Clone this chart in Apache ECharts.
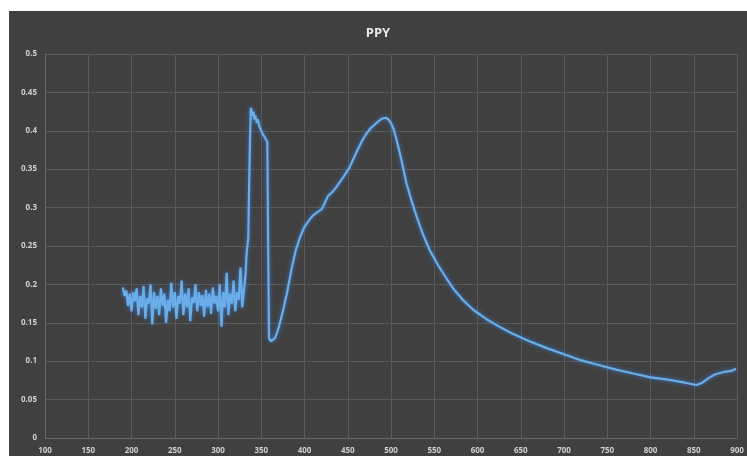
<!DOCTYPE html>
<html><head><meta charset="utf-8">
<script src="https://cdn.jsdelivr.net/npm/echarts@6/dist/echarts.min.js"></script>
<style>
html,body{margin:0;padding:0;background:#fff;width:747px;height:456px;overflow:hidden}
#c{position:absolute;left:9px;top:11px;width:738px;height:445px;background:#404040}
</style></head><body><div id="c"></div>
<script>
const title = 'PPY';
const wavelength = [190,192,194,196,198,200,202,204,206,208,210,212,214,216,218,220,222,224,226,228,230,232,234,236,238,240,242,244,246,248,250,252,254,256,258,260,262,264,266,268,270,272,274,276,278,280,282,284,286,288,290,292,294,296,298,300,302,304,306,308,310,312,314,316,318,320,322,324,326,328,330,
331,332,333,335,336,337,338,339,340,341,342,343,344,345,346,348,350,352,354,356,357,358,359,361,363,366,370,375,380,385,390,395,400,405,410,415,420,423,427,432,437,445,452,460,467,472,477,482,486,490,494,497,500,503,506,510,514,518,524,530,537,545,555,564,573,583,595,610,625,640,660,680,700,720,740,760,780,800,820,840,853,860,867,875,885,892,899];
const absorbance = [0.196,0.185,0.192,0.172,0.188,0.165,0.19,0.178,0.195,0.16,0.185,0.17,0.198,0.155,0.182,0.175,0.2,0.148,0.19,0.168,0.185,0.16,0.195,0.172,0.188,0.15,0.18,0.165,0.202,0.17,0.19,0.155,0.185,0.175,0.205,0.16,0.188,0.17,0.195,0.152,0.183,0.176,0.2,0.165,0.19,0.172,0.186,0.158,0.193,0.17,0.188,0.162,0.196,0.175,0.185,0.165,0.2,0.145,0.19,0.17,0.215,0.16,0.188,0.175,0.205,0.165,0.19,0.18,0.222,0.17,0.192,
0.19,0.215,0.24,0.26,0.33,0.39,0.43,0.432,0.42,0.425,0.415,0.42,0.418,0.41,0.415,0.405,0.4,0.395,0.392,0.39,0.385,0.25,0.13,0.126,0.125,0.13,0.143,0.165,0.19,0.22,0.245,0.262,0.275,0.283,0.29,0.294,0.298,0.305,0.315,0.32,0.327,0.34,0.352,0.372,0.388,0.397,0.404,0.409,0.413,0.416,0.417,0.415,0.41,0.402,0.39,0.372,0.352,0.331,0.308,0.287,0.265,0.244,0.224,0.208,0.193,0.18,0.167,0.155,0.145,0.136,0.126,0.117,0.109,0.101,0.095,0.089,0.084,0.079,0.076,0.072,0.069,0.072,0.078,0.083,0.086,0.087,0.09];
const xMin = 100, xMax = 900, xStep = 50;
const yMin = 0, yMax = 0.5, yStep = 0.05;

const chart = echarts.init(document.getElementById('c'), null, {renderer:'canvas'});
const data = wavelength.map((x,i)=>[x, absorbance[i]]);
const lbl = {color:'#d0d0d0', fontSize:8, fontWeight:'bold', fontFamily:'Open Sans, Arial, sans-serif'};
chart.setOption({
  backgroundColor:'#404040',
  animation:false,
  title:{text:title, left:'center', top:11, textStyle:{color:'#e8e8e8', fontSize:13, fontWeight:'bold', fontFamily:'Open Sans, Arial, sans-serif'}},
  grid:{left:36, right:10, top:43, bottom:18},
  xAxis:{type:'value', min:xMin, max:xMax, interval:xStep,
    axisLine:{show:true, lineStyle:{color:'#6a6a6a'}}, axisTick:{show:false},
    axisLabel:Object.assign({margin:9}, lbl),
    splitLine:{show:true, lineStyle:{color:'#5a5a5a', width:1}}},
  yAxis:{type:'value', min:yMin, max:yMax, interval:yStep,
    axisLine:{show:true, lineStyle:{color:'#6a6a6a'}}, axisTick:{show:false},
    axisLabel:Object.assign({margin:8, formatter:v=>String(+v.toFixed(2))}, lbl),
    splitLine:{show:true, lineStyle:{color:'#5a5a5a', width:1}}},
  series:[{type:'line', data:data, showSymbol:false, symbol:'none',
    lineStyle:{color:'#6aaee8', width:2.2, shadowColor:'rgba(60,130,220,0.9)', shadowBlur:4}}]
});
</script></body></html>
